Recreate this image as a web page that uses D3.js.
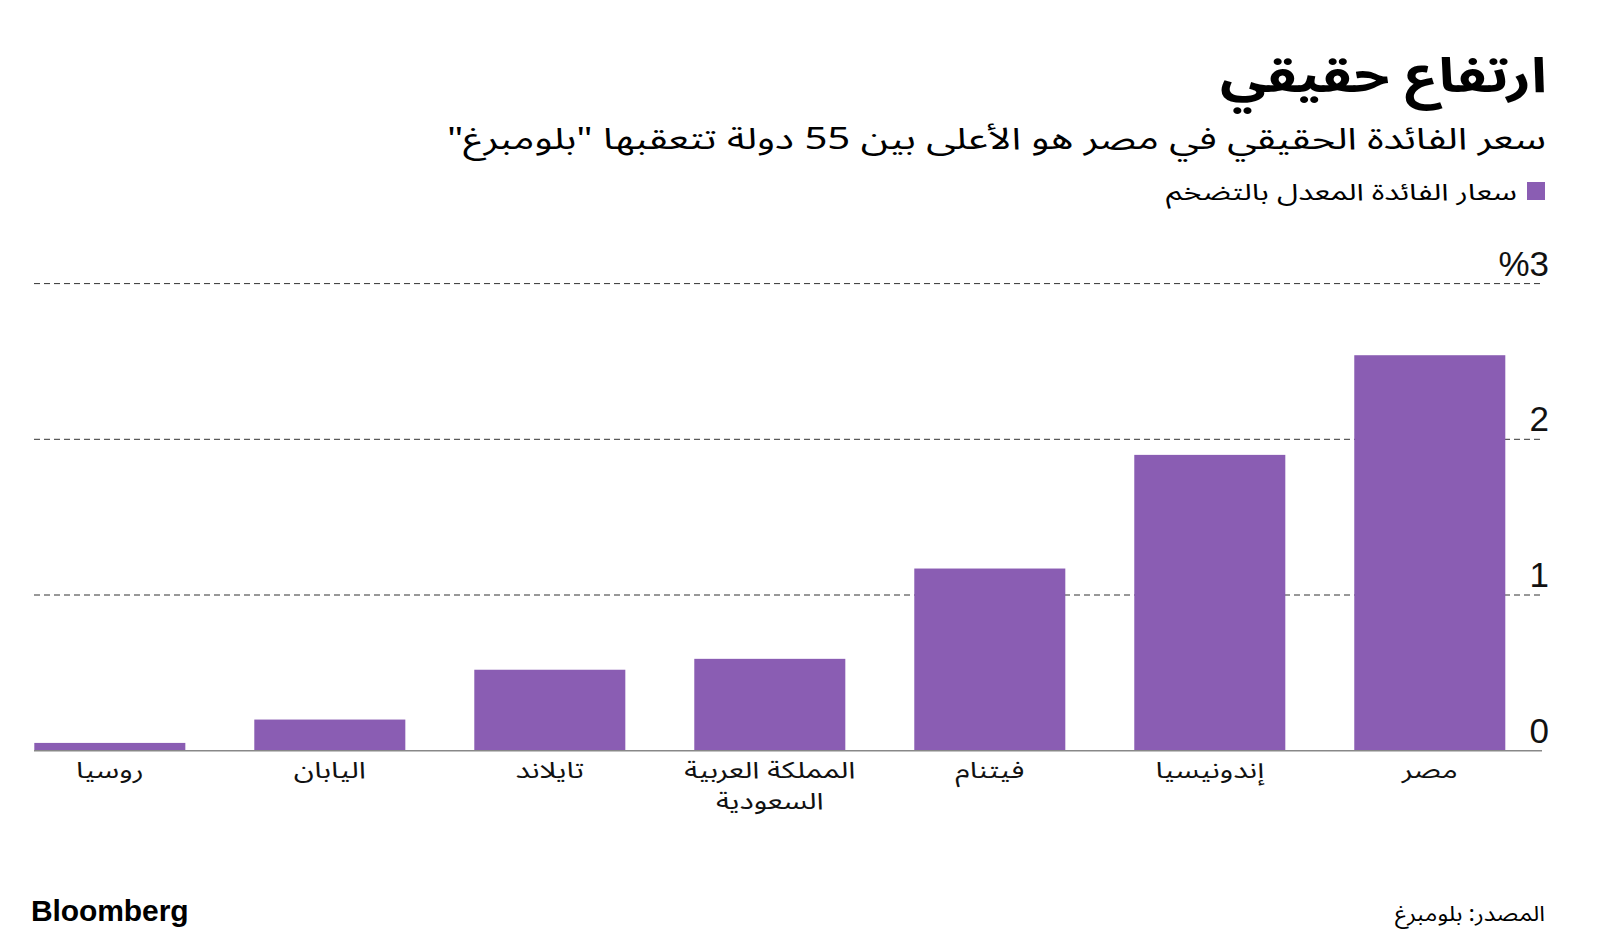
<!DOCTYPE html>
<html>
<head>
<meta charset="utf-8">
<script src="https://cdn.jsdelivr.net/npm/d3@7"></script>
<style>
  body { margin: 0; background: #fff; }
  svg { display: block; }
  .ar { font-family: "Noto Sans Arabic", "DejaVu Sans", sans-serif; }
  .num { font-family: "Liberation Sans", Arial, sans-serif; }
</style>
</head>
<body>
<div id="chart"></div>
<script>
// chart data
var categories = ["روسيا", "اليابان", "تايلاند", "المملكة العربية السعودية", "فيتنام", "إندونيسيا", "مصر"];
var values = [0.05, 0.2, 0.52, 0.59, 1.17, 1.9, 2.54];
var yTicks = [0, 1, 2, 3];
var yTickLabels = ["0", "1", "2", "%3"];

var title = "ارتفاع حقيقي";
var subtitle = "سعر الفائدة الحقيقي في مصر هو الأعلى بين 55 دولة تتعقبها \"بلومبرغ\"";
var legendLabel = "سعار الفائدة المعدل بالتضخم";
var source = "المصدر: بلومبرغ";

var width = 1600, height = 941;
var barColor = "#8a5db3";
// the original arabic face is wider than DejaVu, stretch a bit
var arStretch = 1.3;

var svg = d3.select("#chart")
  .append("svg")
  .attr("width", width)
  .attr("height", height);

// headers (right aligned, rtl)
svg.append("text")
  .attr("class", "ar")
  .attr("direction", "rtl")
  .attr("x", 1547).attr("y", 92)
  .attr("text-anchor", "start")
  .attr("textLength", 327)
  .attr("lengthAdjust", "spacingAndGlyphs")
  .style("font-size", "48px")
  .style("font-weight", "bold")
  .text(title);

svg.append("text")
  .attr("class", "ar")
  .attr("direction", "rtl")
  .attr("x", 1546).attr("y", 149)
  .attr("text-anchor", "start")
  .attr("textLength", 1099)
  .attr("lengthAdjust", "spacingAndGlyphs")
  .style("font-size", "30px")
  .text(subtitle);

// legend
svg.append("rect")
  .attr("x", 1527).attr("y", 182)
  .attr("width", 18).attr("height", 18)
  .attr("fill", barColor);

svg.append("text")
  .attr("class", "ar")
  .attr("direction", "rtl")
  .attr("x", 1517).attr("y", 200)
  .attr("text-anchor", "start")
  .attr("textLength", 351)
  .attr("lengthAdjust", "spacingAndGlyphs")
  .style("font-size", "23px")
  .text(legendLabel);

// scales
var x = d3.scaleBand()
  .domain(categories)
  .range([34.3, 1505.3])
  .paddingInner(0.3135)
  .paddingOuter(0);

var y = d3.scaleLinear()
  .domain([0, 3])
  .range([750.7, 283.6]);

var gridLeft = 34, gridRight = 1542;

// dashed gridlines
svg.append("g")
  .selectAll("line")
  .data(yTicks.filter(function (d) { return d > 0; }))
  .join("line")
  .attr("x1", gridLeft).attr("x2", gridRight)
  .attr("y1", function (d) { return y(d); })
  .attr("y2", function (d) { return y(d); })
  .attr("stroke", "#333")
  .attr("stroke-width", 1)
  .attr("stroke-dasharray", "6,4");

// y labels above gridlines on the right
svg.append("g")
  .selectAll("text")
  .data(yTicks)
  .join("text")
  .attr("class", "num")
  .attr("x", 1549)
  .attr("y", function (d) { return y(d) - 8; })
  .attr("text-anchor", "end")
  .style("font-size", "35px")
  .attr("fill", "#111")
  .text(function (d, i) { return yTickLabels[i]; });

// bars
svg.append("g")
  .selectAll("rect")
  .data(values)
  .join("rect")
  .attr("x", function (d, i) { return x(categories[i]); })
  .attr("y", function (d) { return y(d); })
  .attr("width", x.bandwidth())
  .attr("height", function (d) { return y(0) - y(d); })
  .attr("fill", barColor);

// baseline
svg.append("line")
  .attr("x1", gridLeft).attr("x2", gridRight)
  .attr("y1", y(0)).attr("y2", y(0))
  .attr("stroke", "#888")
  .attr("stroke-width", 1.5);

// category labels, wrapped when too wide
var xAxis = svg.append("g")
  .attr("transform", "translate(0," + y(0) + ")")
  .call(d3.axisBottom(x).tickSize(0).tickPadding(0));
xAxis.select(".domain").remove();
xAxis.selectAll("text")
  .attr("class", "ar")
  .attr("direction", "rtl")
  .style("font-size", "23px")
  .attr("fill", "#111")
  .attr("y", 0)
  .attr("dy", null)
  .each(function (d) {
    var t = d3.select(this);
    var words = d.split(" ");
    var lines = [];
    var cur = [];
    var maxW = 160;
    t.text(null);
    var probe = t.append("tspan");
    words.forEach(function (w) {
      probe.text(cur.concat([w]).join(" "));
      if (probe.node().getComputedTextLength() > maxW && cur.length) {
        lines.push(cur.join(" "));
        cur = [w];
      } else {
        cur.push(w);
      }
    });
    lines.push(cur.join(" "));
    probe.remove();
    lines.forEach(function (ln, i) {
      var g = xAxis.append("text")
        .attr("class", "ar")
        .attr("direction", "rtl")
        .attr("text-anchor", "middle")
        .attr("transform", t.node().parentNode.getAttribute("transform"))
        .style("font-size", "23px")
        .attr("fill", "#111")
        .attr("x", 0)
        .attr("y", 27 + i * 31)
        .text(ln);
      var w = g.node().getComputedTextLength();
      g.attr("textLength", w * arStretch).attr("lengthAdjust", "spacingAndGlyphs");
    });
    t.remove();
  });

// footer
svg.append("text")
  .attr("x", 31).attr("y", 921)
  .style("font-family", "'Liberation Sans', Arial, sans-serif")
  .style("font-weight", "bold")
  .style("font-size", "30px")
  .style("letter-spacing", "-0.1px")
  .text("Bloomberg");

svg.append("text")
  .attr("class", "ar")
  .attr("direction", "rtl")
  .attr("x", 1545).attr("y", 921)
  .attr("text-anchor", "start")
  .attr("textLength", 150)
  .attr("lengthAdjust", "spacingAndGlyphs")
  .style("font-size", "21px")
  .text(source);
</script>
</body>
</html>
